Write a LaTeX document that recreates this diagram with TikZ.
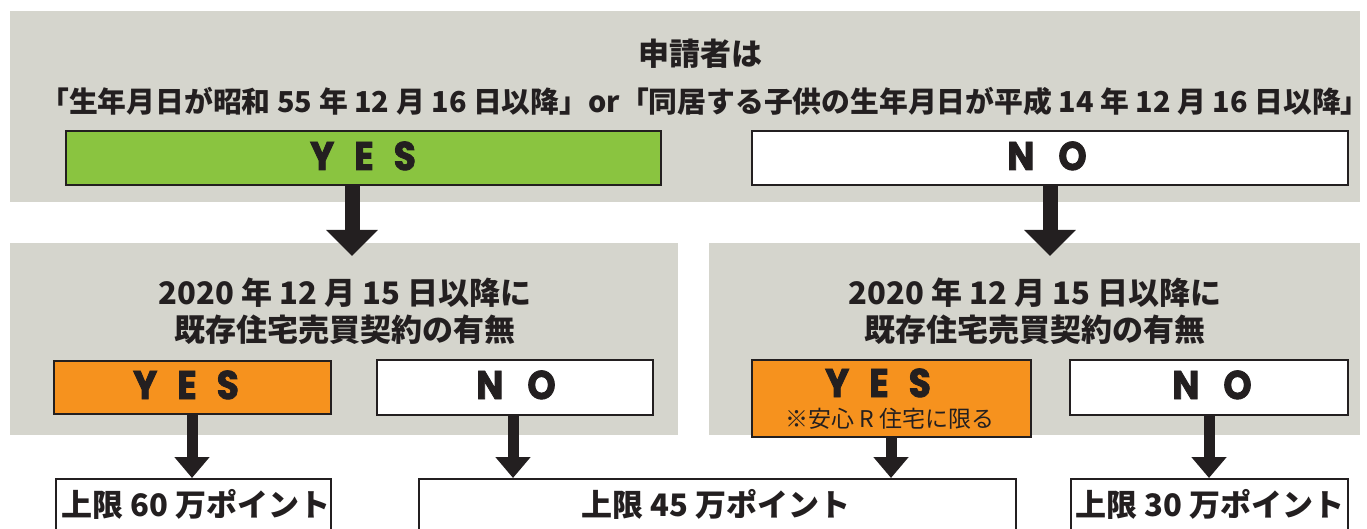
\documentclass[tikz,border=0pt]{standalone}
\usepackage{fontspec}
\setmainfont{Noto Sans CJK JP}
\newfontfamily\yesfont{Poppins}[FakeStretch=0.9,FakeBold=2]
\usetikzlibrary{arrows.meta}
\definecolor{panelgray}{RGB}{213,213,205}
\definecolor{ygreen}{RGB}{138,196,64}
\definecolor{yorange}{RGB}{246,146,30}
\definecolor{ink}{RGB}{35,31,32}
\tikzset{
  panel/.style={fill=panelgray,draw=none,anchor=north west,inner sep=0pt},
  choicebox/.style={draw=ink,line width=2pt,anchor=north west,inner sep=0pt},
  yesfill/.style={choicebox,fill=ygreen},
  orfill/.style={choicebox,fill=yorange},
  whitefill/.style={choicebox,fill=white},
  headtxt/.style={text=ink,font=\fontsize{31}{36}\selectfont\bfseries,inner sep=0pt},
  titletxt/.style={text=ink,font=\fontsize{28.8}{34}\selectfont\bfseries,inner sep=0pt},
  yntxt/.style={text=ink,font=\yesfont\fontsize{40}{44}\selectfont\bfseries,inner sep=0pt,text height=28pt,text depth=0pt},
  notetxt/.style={text=ink,font=\fontsize{23}{26}\selectfont,inner sep=0pt,text height=20pt,text depth=3pt},
  bigarrow/.style={draw=ink,line width=15pt,-{Triangle[width=50pt,length=26pt]}},
  smallarrow/.style={draw=ink,line width=11pt,-{Triangle[width=34pt,length=21pt]}}
}
\begin{document}
\begin{tikzpicture}[x=1pt,y=-1pt]
\useasboundingbox (0,0) rectangle (1367,529);
\clip (0,0) rectangle (1367,529);
% panels
\node[panel,minimum width=1350pt,minimum height=191pt] (toppanel) at (10,11) {};
\node[panel,minimum width=668pt,minimum height=192pt] (midL) at (10,243) {};
\node[panel,minimum width=651pt,minimum height=192pt] (midR) at (709,243) {};
% title
\node[headtxt] (title1) at (700,54) {申請者は};
\node[titletxt] (title2) at (705,101) {「生年月日が昭和 55 年 12 月 16 日以降」or「同居する子供の生年月日が平成 14 年 12 月 16 日以降」};
% mid headings
\node[headtxt] (hL1) at (345,293) {2020 年 12 月 15 日以降に};
\node[headtxt] (hL2) at (345,330) {既存住宅売買契約の有無};
\node[headtxt] (hR1) at (1035,293) {2020 年 12 月 15 日以降に};
\node[headtxt] (hR2) at (1035,330) {既存住宅売買契約の有無};
% arrow targets
\coordinate (t1) at (352,256);
\coordinate (t2) at (1050,256);
\coordinate (t3) at (192,478);
\coordinate (t4) at (513,478);
\coordinate (t5) at (891,478);
\coordinate (t6) at (1209,478);
% boxes
\node[yesfill,minimum width=595pt,minimum height=54pt] (yesA) at (65,130) {};
\node[whitefill,minimum width=596pt,minimum height=54pt] (noA) at (751,130) {};
\node[orfill,minimum width=277pt,minimum height=53pt] (yesB) at (53,360) {};
\node[whitefill,minimum width=276pt,minimum height=55pt] (noB) at (376,359) {};
\node[orfill,minimum width=279pt,minimum height=77pt] (yesC) at (751,359) {};
\node[whitefill,minimum width=278pt,minimum height=55pt] (noC) at (1069,359) {};
% arrows
\draw[bigarrow] (yesA.south -| t1) -- (t1);
\draw[bigarrow] (noA.south -| t2) -- (t2);
\draw[smallarrow] (yesB.south -| t3) -- (t3);
\draw[smallarrow] (noB.south -| t4) -- (t4);
\draw[smallarrow] (yesC.south -| t5) -- (t5);
\draw[smallarrow] (noC.south -| t6) -- (t6);
% bottom boxes
\node[whitefill,minimum width=275pt,minimum height=70pt] (botA) at (55,478) {};
\node[whitefill,minimum width=597pt,minimum height=70pt] (botB) at (418,478) {};
\node[whitefill,minimum width=277pt,minimum height=70pt] (botC) at (1070,478) {};
% box texts
\node[yntxt] (yesAt) at (363,156) {Y\hspace{20pt}E\hspace{20pt}S};
\node[yntxt] (noAt) at (1047,156) {N\hspace{24pt}O};
\node[yntxt] (yesBt) at (186,385) {Y\hspace{20pt}E\hspace{20pt}S};
\node[yntxt] (noBt) at (516,385) {N\hspace{24pt}O};
\node[yntxt] (yesCt) at (878,383) {Y\hspace{20pt}E\hspace{20pt}S};
\node[notetxt] (noteC) at (890,419) {※安心 R 住宅に限る};
\node[yntxt] (noCt) at (1212,385) {N\hspace{24pt}O};
\node[headtxt] (botAt) at (196,504) {上限 60 万ポイント};
\node[headtxt] (botBt) at (716,504) {上限 45 万ポイント};
\node[headtxt] (botCt) at (1210,504) {上限 30 万ポイント};
\end{tikzpicture}
\end{document}
